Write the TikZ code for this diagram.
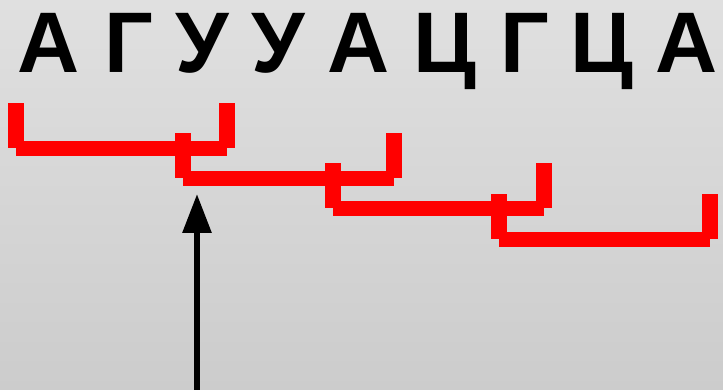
\documentclass[tikz,border=0pt]{standalone}
\usepackage{fontspec}
\setmainfont{Liberation Sans}
\usetikzlibrary{arrows.meta}
\definecolor{bgtop}{RGB}{224,224,224}
\definecolor{bgbot}{RGB}{204,204,204}
\definecolor{codonred}{RGB}{255,0,0}
\tikzset{
  base letter/.style={inner sep=0pt, anchor=base, font=\fontsize{86}{86}\selectfont\bfseries, text=black},
  codon/.style={fill=codonred, draw=none},
  pointer/.style={draw=black, line width=6pt, -{Triangle[width=28pt,length=39pt]}}
}
\begin{document}
\begin{tikzpicture}[x=1pt,y=-1pt]
\shade[top color=bgtop, bottom color=bgbot] (0,0) rectangle (723,390);
\useasboundingbox (0,0) rectangle (723,390);
% letters
\node[base letter] (l1) at (49,72.7) {А};
\node[base letter] (l2) at (129,72.7) {Г};
\node[base letter] (l3) at (202,72.7) {У};
\node[base letter] (l4) at (278.5,72.7) {У};
\node[base letter] (l5) at (359,72.7) {А};
\node[base letter] (l6) at (445,72.7) {Ц};
\node[base letter] (l7) at (525,72.7) {Г};
\node[base letter] (l8) at (602,72.7) {Ц};
\node[base letter] (l9) at (686.7,72.7) {А};
% codon brackets
\foreach \L/\T in {8/103, 175/133, 325/163, 491/194}{
  \fill[codon] (\L,\T) rectangle ++(15.5,45);
  \fill[codon] (\L+8,\T+38) rectangle ++(211,15);
  \fill[codon] (\L+211,\T) rectangle ++(16,45);
}
% pointer arrow
\coordinate (abot) at (197,391);
\coordinate (atip) at (197,194);
\draw[pointer] (abot) -- (atip);
\end{tikzpicture}
\end{document}
